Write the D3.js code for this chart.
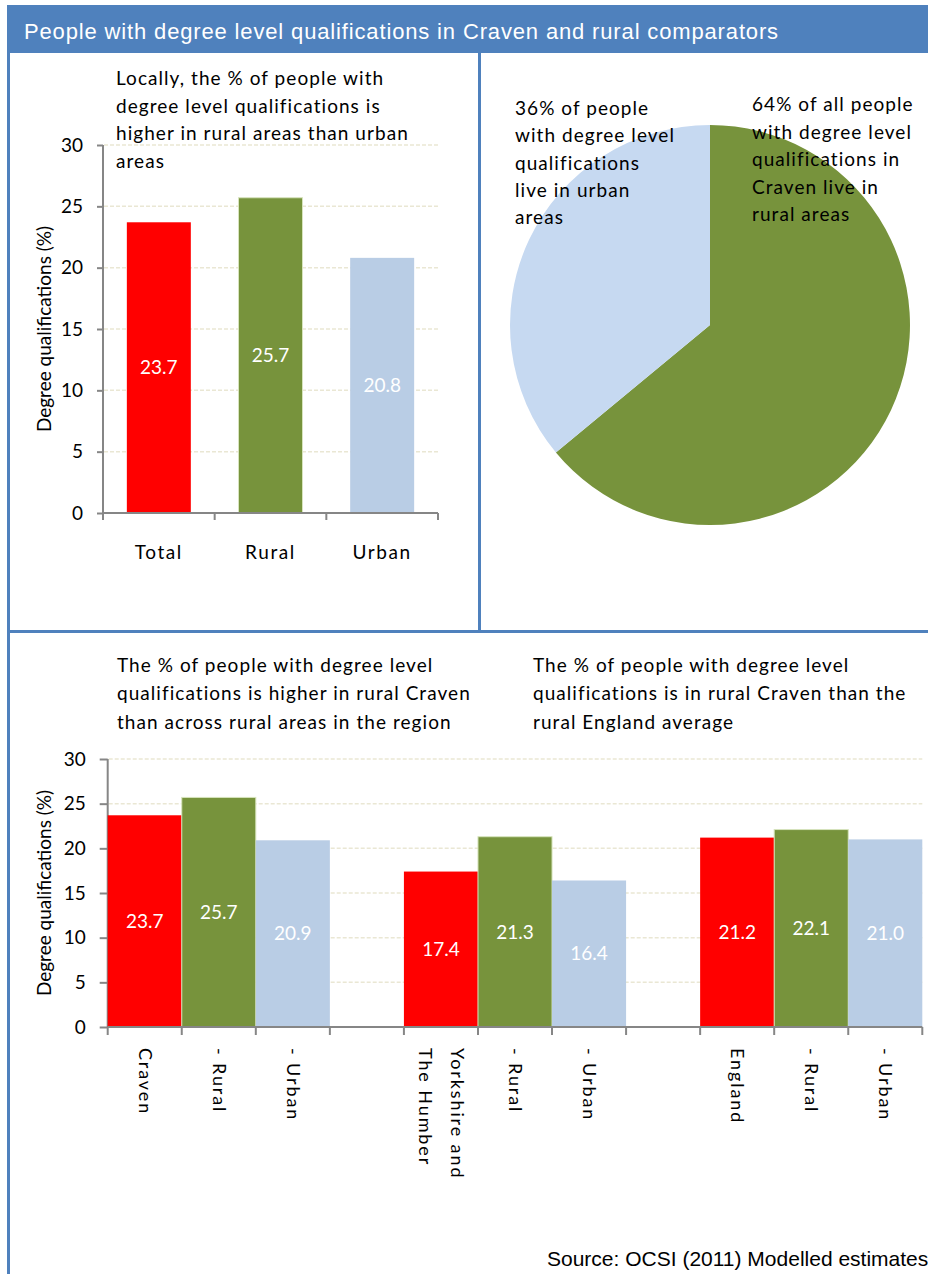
<!DOCTYPE html>
<html>
<head>
<meta charset="utf-8">
<script src="https://cdn.jsdelivr.net/npm/d3@7"></script>
<style>
  html, body { margin: 0; padding: 0; background: #fff; }
  svg { display: block; }
  .body-text { font-family: Lato, "Open Sans", sans-serif; fill: #000; }
</style>
</head>
<body>
<svg id="chart" width="928" height="1274"></svg>
<script>
// ---------------- DATA ----------------
const titleText = "People with degree level qualifications in Craven and rural comparators";
const sourceText = "Source: OCSI (2011) Modelled estimates";
const yAxisTitle = "Degree qualifications (%)";
const yTicks = [0, 5, 10, 15, 20, 25, 30];

const topCategories = ["Total", "Rural", "Urban"];
const topValues = [23.7, 25.7, 20.8];
const topTypes = ["total", "rural", "urban"];
const topNote = ["Locally, the % of people with", "degree level qualifications is", "higher in rural areas than urban", "areas"];

const pieCategories = ["Rural", "Urban"];
const pieValues = [64, 36];
const pieNoteUrban = ["36% of people", "with degree level", "qualifications", "live in urban", "areas"];
const pieNoteRural = ["64% of all people", "with degree level", "qualifications in", "Craven live in", "rural areas"];

const bottomLabels = [["Craven"], ["- Rural"], ["- Urban"], [], ["Yorkshire and", "The Humber"], ["- Rural"], ["- Urban"], [], ["England"], ["- Rural"], ["- Urban"]];
const bottomValues = [23.7, 25.7, 20.9, null, 17.4, 21.3, 16.4, null, 21.2, 22.1, 21.0];
const bottomTypes = ["total", "rural", "urban", null, "total", "rural", "urban", null, "total", "rural", "urban"];
const bottomNoteLeft = ["The % of people with degree level", "qualifications is higher in rural Craven", "than across rural areas in the region"];
const bottomNoteRight = ["The % of people with degree level", "qualifications is in rural Craven than the", "rural England average"];

// ---------------- STYLE ----------------
const colors = { total: "#FF0000", rural: "#77933C", urban: "#B9CDE5" };
const pieColors = { Rural: "#77933C", Urban: "#C6D9F1" };
const frameBlue = "#4F81BD";
const axisGrey = "#868686";
const gridColor = "#EAE7D4";
const bodyFont = 'Lato, "Open Sans", sans-serif';

const svg = d3.select("#chart");
svg.append("rect").attr("width", 928).attr("height", 1274).attr("fill", "#fff");

// ---------------- FRAME ----------------
svg.append("rect").attr("x", 7).attr("y", 5).attr("width", 921).attr("height", 48).attr("fill", frameBlue);
svg.append("text").attr("x", 24).attr("y", 39)
  .attr("font-family", "Liberation Sans, Arial, sans-serif").attr("font-size", 22)
  .attr("letter-spacing", 0.85)
  .attr("fill", "#fff").text(titleText);
svg.append("line").attr("x1", 8.5).attr("x2", 8.5).attr("y1", 53).attr("y2", 1274)
  .attr("stroke", frameBlue).attr("stroke-width", 3);
svg.append("line").attr("x1", 479.5).attr("x2", 479.5).attr("y1", 53).attr("y2", 630)
  .attr("stroke", frameBlue).attr("stroke-width", 3);
svg.append("line").attr("x1", 7).attr("x2", 928).attr("y1", 631.5).attr("y2", 631.5)
  .attr("stroke", frameBlue).attr("stroke-width", 3);

function note(lines, x, y0, dy) {
  const t = svg.append("text").attr("class", "body-text").attr("font-size", 19)
    .attr("letter-spacing", 1.05);
  lines.forEach((l, i) => t.append("tspan").attr("x", x).attr("y", y0 + i * dy).text(l));
}

function drawYAxis(y, x0, x1, tickLen, pad, titleX) {
  const g = svg.append("g").attr("transform", `translate(${x0},0)`);
  g.call(d3.axisLeft(y).tickValues(yTicks).tickSize(tickLen).tickPadding(pad).tickFormat(d3.format("d")));
  g.select(".domain").remove();
  g.selectAll(".tick line").attr("stroke", axisGrey).attr("stroke-width", 2);
  g.selectAll(".tick text").attr("font-family", bodyFont).attr("font-size", 19).attr("fill", "#000");
  // gridlines
  svg.append("g").selectAll("line").data(yTicks.filter(d => d > 0)).join("line")
    .attr("x1", x0 + 1).attr("x2", x1).attr("y1", d => y(d)).attr("y2", d => y(d))
    .attr("stroke", gridColor).attr("stroke-width", 1.5).attr("stroke-dasharray", "4,2");
  // axis line
  svg.append("line").attr("x1", x0).attr("x2", x0).attr("y1", y(30)).attr("y2", y(0) + 1)
    .attr("stroke", axisGrey).attr("stroke-width", 2);
  const [r0, r1] = y.range();
  svg.append("text").attr("class", "body-text").attr("font-size", 19)
    .attr("transform", `translate(${titleX},${(r0 + r1) / 2}) rotate(-90)`)
    .attr("text-anchor", "middle").text(yAxisTitle);
}

// ---------------- TOP BAR CHART ----------------
{
  const y = d3.scaleLinear().domain([0, 30]).range([513, 145]);
  const pad = 0.427;
  const x = d3.scaleBand().domain(topCategories).range([103, 438]).paddingInner(pad).paddingOuter(pad / 2);
  drawYAxis(y, 103, 438, 6, 14, 51);

  svg.append("g").selectAll("rect").data(topCategories).join("rect")
    .attr("x", d => x(d)).attr("width", x.bandwidth())
    .attr("y", (d, i) => y(topValues[i])).attr("height", (d, i) => y(0) - y(topValues[i]))
    .attr("fill", (d, i) => colors[topTypes[i]])
    .attr("stroke", (d, i) => topTypes[i] === "rural" ? "#D7E4BD" : "none").attr("stroke-width", 1);

  svg.append("g").selectAll("text").data(topCategories).join("text")
    .attr("x", d => x(d) + x.bandwidth() / 2)
    .attr("y", (d, i) => (y(topValues[i]) + y(0)) / 2)
    .attr("dy", "0.35em").attr("text-anchor", "middle")
    .attr("font-family", bodyFont).attr("font-size", 19).attr("fill", "#fff")
    .text((d, i) => topValues[i].toFixed(1));

  // x axis
  svg.append("line").attr("x1", 103).attr("x2", 438).attr("y1", y(0)).attr("y2", y(0))
    .attr("stroke", axisGrey).attr("stroke-width", 2);
  const edges = topCategories.map(d => x(d) - (x.step() - x.bandwidth()) / 2);
  edges.push(edges[edges.length - 1] + x.step());
  svg.append("g").selectAll("line").data(edges).join("line")
    .attr("x1", d => d).attr("x2", d => d).attr("y1", y(0)).attr("y2", y(0) + 7)
    .attr("stroke", axisGrey).attr("stroke-width", 2);
  svg.append("g").selectAll("text").data(topCategories).join("text")
    .attr("x", d => x(d) + x.bandwidth() / 2).attr("y", 559)
    .attr("text-anchor", "middle").attr("font-family", bodyFont).attr("font-size", 19)
    .attr("letter-spacing", 1.6).text(d => d);

  note(topNote, 116, 85, 27.5);
}

// ---------------- PIE ----------------
{
  const cx = 710, cy = 325, r = 200;
  const pie = d3.pie().sort(null).value(d => d.v);
  const arc = d3.arc().innerRadius(0).outerRadius(r);
  const data = pieCategories.map((c, i) => ({ c, v: pieValues[i] }));
  svg.append("g").attr("transform", `translate(${cx},${cy})`)
    .selectAll("path").data(pie(data)).join("path")
    .attr("d", arc).attr("fill", d => pieColors[d.data.c]);
  note(pieNoteUrban, 515, 115, 27.3);
  note(pieNoteRural, 752, 111, 27.6);
}

// ---------------- BOTTOM BAR CHART ----------------
{
  const y = d3.scaleLinear().domain([0, 30]).range([1027, 759]);
  const idx = bottomValues.map((d, i) => i);
  const x = d3.scaleBand().domain(idx).range([107.7, 922.3]).padding(0);
  drawYAxis(y, 107.7, 922.3, 8, 14, 51);

  const withBars = idx.filter(i => bottomValues[i] !== null);
  svg.append("g").selectAll("rect").data(withBars).join("rect")
    .attr("x", i => x(i)).attr("width", x.bandwidth())
    .attr("y", i => y(bottomValues[i])).attr("height", i => y(0) - y(bottomValues[i]))
    .attr("fill", i => colors[bottomTypes[i]])
    .attr("stroke", i => bottomTypes[i] === "rural" ? "#D7E4BD" : "none").attr("stroke-width", 1);

  svg.append("g").selectAll("text").data(withBars).join("text")
    .attr("x", i => x(i) + x.bandwidth() / 2)
    .attr("y", i => (y(bottomValues[i]) + y(0)) / 2)
    .attr("dy", "0.35em").attr("text-anchor", "middle")
    .attr("font-family", bodyFont).attr("font-size", 19).attr("fill", "#fff")
    .text(i => bottomValues[i].toFixed(1));

  svg.append("line").attr("x1", 107.7).attr("x2", 922.3).attr("y1", y(0)).attr("y2", y(0))
    .attr("stroke", axisGrey).attr("stroke-width", 2);
  const edges = idx.map(i => x(i)).concat([x(idx[idx.length - 1]) + x.step()]);
  svg.append("g").selectAll("line").data(edges).join("line")
    .attr("x1", d => d).attr("x2", d => d).attr("y1", y(0)).attr("y2", y(0) + 8)
    .attr("stroke", axisGrey).attr("stroke-width", 2);

  // rotated category labels
  const lg = svg.append("g");
  idx.forEach(i => {
    const lines = bottomLabels[i];
    if (!lines.length) return;
    const cxp = x(i) + x.bandwidth() / 2;
    const t = lg.append("text").attr("class", "body-text").attr("font-size", 18)
      .attr("letter-spacing", 1.9)
      .attr("transform", `translate(${cxp},1048) rotate(90)`);
    const n = lines.length;
    lines.forEach((l, k) => {
      t.append("tspan").attr("x", 0).attr("y", (k - (n - 1) / 2) * 32 + 6).text(l);
    });
  });

  note(bottomNoteLeft, 117, 672, 28.3);
  note(bottomNoteRight, 533, 672, 28.3);
}

// ---------------- SOURCE ----------------
svg.append("text").attr("x", 547).attr("y", 1266)
  .attr("font-family", "Liberation Sans, Arial, sans-serif").attr("font-size", 21)
  .attr("fill", "#000").text(sourceText);
</script>
</body>
</html>
